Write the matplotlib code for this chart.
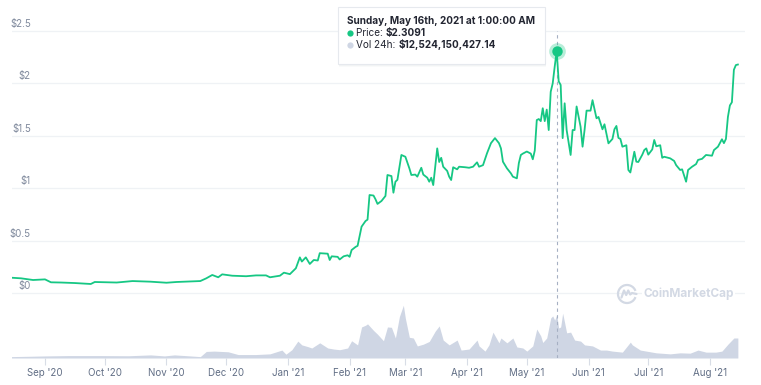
import matplotlib
matplotlib.use("Agg")
import matplotlib.pyplot as plt
import matplotlib.dates as mdates
import matplotlib.transforms as mtransforms
from matplotlib.text import Annotation
import numpy as np
import pandas as pd
from matplotlib.patches import FancyBboxPatch, Arc

# ---------------- data ----------------
price_dates = [
    "2020-08-15", "2020-08-20", "2020-08-26", "2020-09-01", "2020-09-04", "2020-09-09",
    "2020-09-16", "2020-09-24", "2020-09-26", "2020-10-07", "2020-10-15", "2020-10-24",
    "2020-11-01", "2020-11-06", "2020-11-18", "2020-11-21", "2020-11-24", "2020-11-27",
    "2020-11-29", "2020-12-04", "2020-12-11", "2020-12-16", "2020-12-21", "2020-12-23",
    "2020-12-28", "2020-12-30", "2021-01-02", "2021-01-05", "2021-01-07", "2021-01-08",
    "2021-01-10", "2021-01-12", "2021-01-14", "2021-01-16", "2021-01-17", "2021-01-21",
    "2021-01-22", "2021-01-23", "2021-01-26", "2021-01-27", "2021-01-29", "2021-01-31",
    "2021-02-01", "2021-02-02", "2021-02-04", "2021-02-05", "2021-02-07", "2021-02-09",
    "2021-02-10", "2021-02-11", "2021-02-13", "2021-02-14", "2021-02-15", "2021-02-17",
    "2021-02-19", "2021-02-20", "2021-02-22", "2021-02-23", "2021-02-24", "2021-02-25",
    "2021-02-27", "2021-03-01", "2021-03-03", "2021-03-04", "2021-03-06", "2021-03-07",
    "2021-03-09", "2021-03-10", "2021-03-12", "2021-03-13", "2021-03-14", "2021-03-15",
    "2021-03-17", "2021-03-18", "2021-03-19", "2021-03-20", "2021-03-22", "2021-03-23",
    "2021-03-24", "2021-03-25", "2021-03-27", "2021-03-28", "2021-03-31", "2021-04-02",
    "2021-04-04", "2021-04-06", "2021-04-07", "2021-04-09", "2021-04-11", "2021-04-13",
    "2021-04-15", "2021-04-17", "2021-04-18", "2021-04-19", "2021-04-21", "2021-04-23",
    "2021-04-24", "2021-04-26", "2021-04-27", "2021-04-28", "2021-04-29", "2021-05-01",
    "2021-05-03", "2021-05-04", "2021-05-05", "2021-05-06", "2021-05-07", "2021-05-08",
    "2021-05-09", "2021-05-10", "2021-05-11", "2021-05-12", "2021-05-13", "2021-05-14",
    "2021-05-15", "2021-05-16", "2021-05-17", "2021-05-18", "2021-05-19", "2021-05-20",
    "2021-05-21", "2021-05-23", "2021-05-24", "2021-05-25", "2021-05-26", "2021-05-28",
    "2021-05-29", "2021-05-30", "2021-05-31", "2021-06-02", "2021-06-03", "2021-06-05",
    "2021-06-06", "2021-06-08", "2021-06-09", "2021-06-11", "2021-06-13", "2021-06-14",
    "2021-06-15", "2021-06-16", "2021-06-17", "2021-06-18", "2021-06-20", "2021-06-21",
    "2021-06-22", "2021-06-24", "2021-06-25", "2021-06-26", "2021-06-28", "2021-06-29",
    "2021-06-30", "2021-07-01", "2021-07-03", "2021-07-04", "2021-07-05", "2021-07-07",
    "2021-07-08", "2021-07-09", "2021-07-11", "2021-07-12", "2021-07-14", "2021-07-15",
    "2021-07-17", "2021-07-18", "2021-07-20", "2021-07-21", "2021-07-23", "2021-07-25",
    "2021-07-26", "2021-07-28", "2021-07-30", "2021-08-02", "2021-08-03", "2021-08-05",
    "2021-08-07", "2021-08-08", "2021-08-09", "2021-08-10", "2021-08-11", "2021-08-12",
    "2021-08-13", "2021-08-14", "2021-08-15",
]
price_values = [
    0.146, 0.140, 0.124, 0.130, 0.102, 0.100,
    0.095, 0.086, 0.105, 0.100, 0.114, 0.108,
    0.098, 0.105, 0.114, 0.140, 0.172, 0.150,
    0.178, 0.165, 0.160, 0.168, 0.168, 0.150,
    0.165, 0.194, 0.180, 0.236, 0.340, 0.300,
    0.340, 0.277, 0.315, 0.310, 0.380, 0.375,
    0.315, 0.350, 0.345, 0.320, 0.350, 0.360,
    0.345, 0.410, 0.440, 0.450, 0.633, 0.687,
    0.700, 0.935, 0.930, 0.894, 0.850, 0.878,
    0.926, 1.126, 1.116, 0.957, 1.062, 1.080,
    1.317, 1.300, 1.190, 1.126, 1.130, 1.110,
    1.195, 1.130, 1.100, 1.062, 1.100, 1.030,
    1.380, 1.250, 1.290, 1.205, 1.165, 1.110,
    1.078, 1.200, 1.180, 1.205, 1.200, 1.195,
    1.205, 1.247, 1.205, 1.220, 1.333, 1.430,
    1.478, 1.430, 1.380, 1.253, 1.190, 1.142,
    1.110, 1.094, 1.240, 1.317, 1.330, 1.350,
    1.330, 1.276, 1.360, 1.650, 1.660, 1.640,
    1.763, 1.640, 1.750, 1.555, 1.920, 2.000,
    2.160, 2.3091, 2.020, 1.985, 1.478, 1.810,
    1.555, 1.317, 1.555, 1.555, 1.780, 1.587,
    1.396, 1.555, 1.740, 1.740, 1.840, 1.667,
    1.680, 1.562, 1.610, 1.428, 1.470, 1.562,
    1.594, 1.480, 1.470, 1.396, 1.410, 1.174,
    1.150, 1.348, 1.253, 1.250, 1.320, 1.364,
    1.380, 1.320, 1.370, 1.460, 1.400, 1.410,
    1.290, 1.300, 1.290, 1.285, 1.260, 1.220,
    1.174, 1.180, 1.062, 1.174, 1.205, 1.230,
    1.270, 1.280, 1.317, 1.310, 1.364, 1.396,
    1.467, 1.430, 1.470, 1.680, 1.790, 1.820,
    2.130, 2.175, 2.180,
]

vol_dates = [
    "2020-08-15", "2020-08-24", "2020-09-01", "2020-09-13", "2020-09-28", "2020-10-13",
    "2020-10-24", "2020-10-31", "2020-11-05", "2020-11-13", "2020-11-18", "2020-11-21",
    "2020-11-25", "2020-12-02", "2020-12-07", "2020-12-16", "2020-12-23", "2020-12-29",
    "2020-12-31", "2021-01-03", "2021-01-06", "2021-01-08", "2021-01-11", "2021-01-13",
    "2021-01-17", "2021-01-21", "2021-01-24", "2021-01-27", "2021-01-31", "2021-02-02",
    "2021-02-05", "2021-02-07", "2021-02-09", "2021-02-10", "2021-02-13", "2021-02-15",
    "2021-02-18", "2021-02-20", "2021-02-22", "2021-02-24", "2021-02-26", "2021-02-28",
    "2021-03-01", "2021-03-03", "2021-03-05", "2021-03-07", "2021-03-10", "2021-03-13",
    "2021-03-16", "2021-03-18", "2021-03-20", "2021-03-23", "2021-03-27", "2021-03-29",
    "2021-04-02", "2021-04-06", "2021-04-07", "2021-04-10", "2021-04-12", "2021-04-14",
    "2021-04-17", "2021-04-18", "2021-04-21", "2021-04-24", "2021-04-26", "2021-04-29",
    "2021-05-01", "2021-05-04", "2021-05-06", "2021-05-08", "2021-05-09", "2021-05-11",
    "2021-05-13", "2021-05-14", "2021-05-15", "2021-05-16", "2021-05-17", "2021-05-18",
    "2021-05-19", "2021-05-20", "2021-05-21", "2021-05-23", "2021-05-25", "2021-05-28",
    "2021-05-30", "2021-06-03", "2021-06-07", "2021-06-10", "2021-06-13", "2021-06-18",
    "2021-06-22", "2021-06-23", "2021-06-27", "2021-06-30", "2021-07-05", "2021-07-12",
    "2021-07-17", "2021-07-22", "2021-07-26", "2021-07-30", "2021-08-04", "2021-08-07",
    "2021-08-10", "2021-08-12", "2021-08-13", "2021-08-15",
]
vol_values_bn = [
    0.4, 0.5, 0.6, 0.7, 0.7, 0.65,
    0.9, 0.6, 0.9, 0.6, 0.4, 1.9,
    2.0, 1.8, 1.0, 1.0, 1.2, 2.3,
    1.1, 2.4, 4.9, 3.8, 3.3, 2.9,
    4.4, 2.9, 2.6, 2.4, 2.9, 5.0,
    3.8, 9.0, 9.5, 9.9, 8.0, 6.9,
    5.0, 9.0, 8.9, 5.8, 12.0, 15.3,
    11.5, 6.0, 5.8, 3.5, 4.0, 4.8,
    7.8, 9.3, 5.2, 3.8, 5.2, 2.3,
    2.6, 5.2, 3.5, 2.0, 3.8, 7.5,
    4.4, 5.8, 4.4, 5.8, 3.2, 2.9,
    2.0, 3.5, 8.4, 6.4, 4.5, 5.8,
    11.6, 12.2, 11.0, 12.52, 8.7, 9.0,
    13.0, 10.2, 7.3, 7.5, 5.2, 4.9,
    3.8, 3.5, 2.3, 2.3, 2.0, 1.7,
    4.6, 3.8, 2.3, 2.0, 1.5, 1.2,
    1.5, 1.4, 2.3, 1.7, 1.7, 2.0,
    4.0, 5.2, 5.8, 5.8,
]

y_ticks = [0, 0.5, 1, 1.5, 2, 2.5]
y_tick_labels = ["$0", "$0.5", "$1", "$1.5", "$2", "$2.5"]
month_ticks = ["2020-09-01", "2020-10-01", "2020-11-01", "2020-12-01", "2021-01-01",
               "2021-02-01", "2021-03-01", "2021-04-01", "2021-05-01", "2021-06-01",
               "2021-07-01", "2021-08-01"]

tooltip_date = "2021-05-16"
tooltip_title = "Sunday, May 16th, 2021 at 1:00:00 AM"
tooltip_price = 2.3091
tooltip_vol = 12524150427.14

# ---------------- style ----------------
plt.rcParams["font.family"] = ["Inter", "DejaVu Sans"]
GREEN = "#16c784"
VOL_COLOR = "#cfd6e4"
GRID = "#eff2f5"
LABEL = "#808a9d"
DARK = "#222531"

W, H = 761, 385
fig = plt.figure(figsize=(W / 100, H / 100), dpi=100)
fig.patch.set_facecolor("white")

left_px, right_px, top_px, bottom_px = 12, 745, 20, 358
pos = [left_px / W, (H - bottom_px) / H, (right_px - left_px) / W, (bottom_px - top_px) / H]

axv = fig.add_axes(pos)
ax = fig.add_axes(pos, sharex=axv)
ax.patch.set_visible(False)

pd_price = pd.to_datetime(price_dates)
pd_vol = pd.to_datetime(vol_dates)

# x range: 1.991 px per day, Sep 1 2020 at x=45 px
x_ref = mdates.date2num(pd.Timestamp("2020-09-01"))
px_per_day = 1.991
axv.set_xlim(x_ref - (45 - left_px) / px_per_day, x_ref + (right_px - 45) / px_per_day)

# volume
axv.fill_between(pd_vol, vol_values_bn, 0, color=VOL_COLOR, lw=0, zorder=1)
axv.set_ylim(0, (bottom_px - top_px) * 0.29)
axv.axis("off")

# price axis range: $0 at 293 px, 104.8 px per $
ppd = 104.8
ax.set_ylim(-(bottom_px - 293) / ppd, (293 - top_px) / ppd)

for t in y_ticks:
    ax.axhline(t, color=GRID, lw=0.9, zorder=0)

blend = mtransforms.blended_transform_factory(ax.transAxes, ax.transData)
label_x = (31 - left_px) / (right_px - left_px)
for t, lab in zip(y_ticks, y_tick_labels):
    ax.annotate(lab, xy=(label_x, t), xycoords=blend, xytext=(0, 1.5),
                textcoords="offset points", ha="right", va="bottom",
                fontsize=7, color=LABEL)

# crosshair
peak_x = pd.Timestamp(tooltip_date)
ax.plot([peak_x, peak_x], [ax.get_ylim()[0], 2.5], color="#a6b0c3", lw=0.8,
        ls=(0, (3, 3)), zorder=2)

ax.plot(pd_price, price_values, color=GREEN, lw=1.3, zorder=3, solid_joinstyle="round")

# peak marker
ax.plot([peak_x], [tooltip_price], "o", ms=12, color=GREEN, alpha=0.3, mec="none", zorder=4)
ax.plot([peak_x], [tooltip_price], "o", ms=7.5, color=GREEN, mec="none", zorder=5)

# axes styling
for s in ax.spines.values():
    s.set_visible(False)
ax.set_yticks([])
ax.set_xticks(pd.to_datetime(month_ticks))
ax.xaxis.set_major_formatter(mdates.DateFormatter("%b '%y"))
ax.tick_params(axis="x", direction="out", length=5, width=0.8, color="#d8dde6",
               labelsize=7, labelcolor="#616e85", pad=2)

# watermark
fig.text(643 / W, (H - 294) / H, "CoinMarketCap", fontsize=8.5, fontweight="bold",
         color="#d3d9e4", ha="left", va="center",
         bbox=dict(boxstyle="square,pad=0.1", fc="white", ec="none"))
lax = fig.add_axes([616 / W, (H - 305) / H, 22 / W, 22 / H])
lax.set_xlim(-1.1, 1.1)
lax.set_ylim(-1.1, 1.1)
lax.set_aspect("equal")
lax.axis("off")
lax.add_patch(Arc((0, 0), 1.8, 1.8, theta1=20, theta2=340, color="#d3d9e4", lw=1.6))
lax.plot([-0.55, -0.3, -0.08, 0.12, 0.32, 0.5, 0.95], [-0.35, 0.35, -0.1, 0.35, -0.05, 0.1, 0.0],
         color="#d3d9e4", lw=1.6, solid_joinstyle="round", solid_capstyle="round")

# tooltip
for i, a in enumerate([0.05, 0.04, 0.03]):
    sh = FancyBboxPatch(((338 + 1) / W, (H - 64 - 1 - i) / H), 207 / W, 57 / H,
                        boxstyle="square,pad=0", transform=fig.transFigure,
                        fc="#58667e", ec="none", alpha=a, zorder=9)
    fig.add_artist(sh)
box = FancyBboxPatch((338 / W, (H - 64) / H), 207 / W, 57 / H, boxstyle="square,pad=0",
                     transform=fig.transFigure, fc="white", ec="#e6e9ee", lw=0.8, zorder=10)
fig.add_artist(box)

fig.text(347 / W, (H - 21.5) / H, tooltip_title, fontsize=7.2, fontweight="bold",
         color=DARK, ha="left", va="center", zorder=11)


def rich_line(y_px, dot_color, label, value):
    dot = plt.Line2D([350 / W], [(H - y_px) / H], marker="o", ms=4.5, color=dot_color,
                     mec="none", transform=fig.transFigure, zorder=11)
    fig.add_artist(dot)
    t1 = fig.text(356 / W, (H - y_px) / H, label, fontsize=7.2, color=DARK,
                  ha="left", va="center", zorder=11)
    ann = Annotation(value, xy=(1, 0.5), xycoords=t1, xytext=(0, 0),
                     textcoords="offset points", ha="left", va="center",
                     fontsize=7.2, fontweight="bold", color=DARK,
                     annotation_clip=False)
    ann.set_zorder(11)
    fig.add_artist(ann)


rich_line(33.3, GREEN, "Price: ", f"${tooltip_price:.4f}")
rich_line(44.7, VOL_COLOR, "Vol 24h: ", f"${tooltip_vol:,.2f}")

fig.savefig("out.png", dpi=100)
